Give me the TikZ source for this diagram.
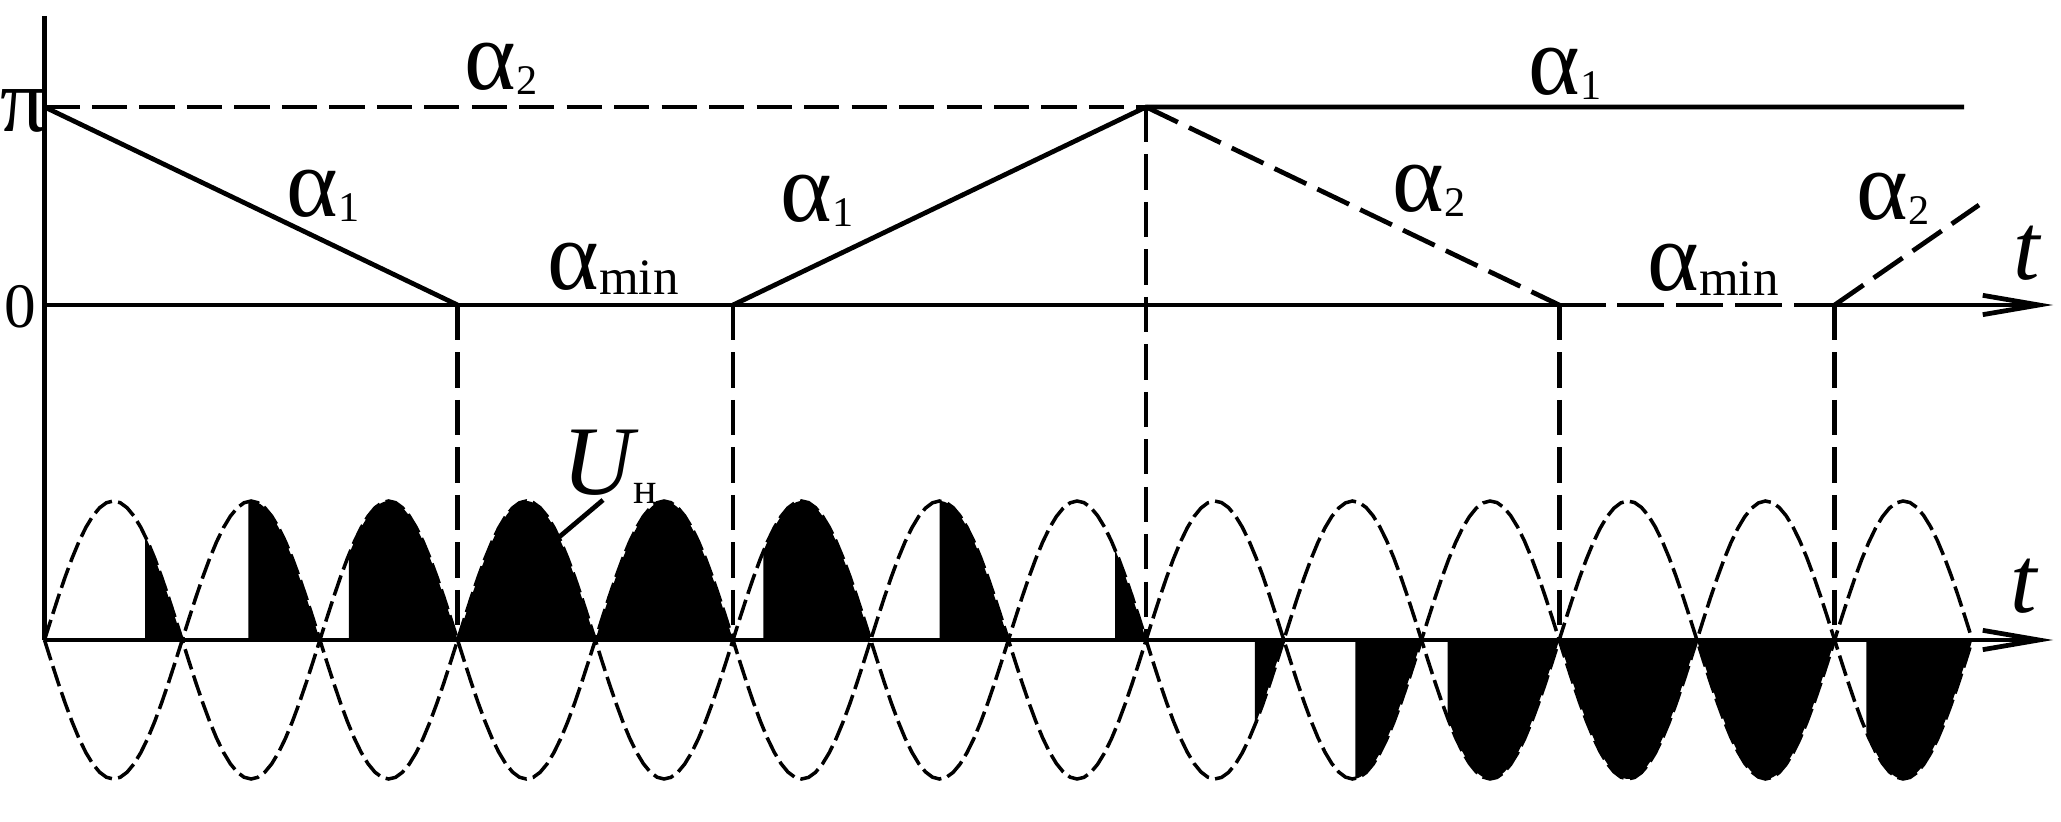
\documentclass[tikz,border=0pt]{standalone}
\usepackage{fontspec}
\setmainfont{Liberation Serif}
\usepackage{tikz}
\usetikzlibrary{arrows.meta}
\newcommand{\alf}[2][12]{α\raisebox{-1.4pt}{\fontsize{#1}{#1}\selectfont #2}}

\begin{document}
\begin{tikzpicture}[x=0.01cm, y=-0.01cm, % control angles and load voltage
    axis/.style={line width=1.35pt},
    ctrldash/.style={line width=1.35pt, dash pattern=on 10pt off 3.5pt},
    supply/.style={line width=1pt, dash pattern=on 6pt off 1.8pt},
    lbl/.style={inner sep=0pt, anchor=base west, font=\fontsize{28}{28}\selectfont},
    tip/.style={-{Straight Barb[length=16pt, width=5.5pt]}}]

      \useasboundingbox (0,0) rectangle (2061,822);

      % load voltage
      \foreach \k/\a/\s in {0/0.73/-1, 1/0.48/-1, 2/0.21/-1, 3/0/-1, 4/0/-1, 5/0.22/-1, 6/0.5/-1, 7/0.775/-1,
                            8/0.79/1, 9/0.52/1, 10/0.19/1, 11/0/1, 12/0/1, 13/0.23/1}
        {
          \pgfmathsetmacro{\ks}{\k+\a}
          \pgfmathsetmacro{\ke}{\k+1}
          \fill [domain=\ks:\ke, samples=40] ({44.5+137.7*\ks}, 640)
            -- plot ({44.5+137.7*\x}, {640+\s*139*abs(sin(180*\x))}) -- cycle;
        }
      \draw [supply, domain=0:14, samples=281] plot ({44.5+137.7*\x}, {640-139*sin(180*\x)});
      \draw [supply, domain=0:14, samples=281] plot ({44.5+137.7*\x}, {640+139*sin(180*\x)});

      % axes
      \coordinate (top) at (44.5, 16);
      \coordinate (o1) at (44.5, 305);
      \coordinate (o2) at (44.5, 640);
      \coordinate (t1end) at (2053, 305);
      \coordinate (t2end) at (2053, 640);
      \coordinate (gap1) at (1606, 305);
      \coordinate (gap2) at (1617, 305);
      \coordinate (gap3) at (1783, 305);
      \coordinate (gap4) at (1794, 305);
      \draw [axis] (top) -- (o2);
      \draw [axis, tip] (o2) -- (t2end);
      \draw [axis] (o1) -- (gap1);
      \draw [axis, dash pattern=on 13.4pt off 3.4pt] (gap2) -- (gap3);
      \draw [axis, tip] (gap4) -- (t1end);

      % control angles
      \coordinate (pi0) at (44.5, 107);
      \coordinate (a1) at (457.6, 305);
      \coordinate (b1) at (733, 305);
      \coordinate (c1) at (1146.1, 107);
      \coordinate (d1) at (1559.2, 305);
      \coordinate (e1) at (1834.6, 305);
      \coordinate (f1) at (1979, 205);
      \coordinate (piend) at (1964, 107);
      \draw [axis] (pi0) -- (a1);
      \draw [axis] (b1) -- (c1) -- (piend);
      \draw [ctrldash] (pi0) -- (c1);
      \draw [ctrldash] (c1) -- (d1);
      \draw [ctrldash] (e1) -- (f1);
      \foreach \p in {a1, b1, c1, d1, e1}
        \draw [ctrldash] (\p) -- (\p |- o2);

      \node [lbl, font=\fontsize{26}{26}\selectfont] (lblpi) at (0, 132) {π};
      \node [lbl, font=\fontsize{18}{18}\selectfont] (lblzero) at (4, 328) {0};
      \node [lbl] (alpha2a) at (464, 90) {\alf{2}};
      \node [lbl] (alpha1a) at (286, 217) {\alf{1}};
      \node [lbl] (alphamina) at (547, 290) {\alf[14.5]{min}};
      \node [lbl] (alpha1b) at (780, 222) {\alf{1}};
      \node [lbl] (alpha2b) at (1392, 212) {\alf{2}};
      \node [lbl] (alpha1c) at (1528, 95) {\alf{1}};
      \node [lbl] (alphaminb) at (1647, 291) {\alf[14.5]{min}};
      \node [lbl] (alpha2c) at (1856, 220) {\alf{2}};
      \node [lbl, font=\fontsize{27}{27}\selectfont\itshape] (lblt1) at (2013, 280) {t};
      \node [lbl, font=\fontsize{27}{27}\selectfont\itshape] (lblt2) at (2010, 613) {t};
      \node [lbl] (lblU) at (562, 495) {\textit{U}\kern-1.5pt\raisebox{-2.3pt}{\fontsize{12.5}{12.5}\selectfont н}};
      \coordinate (uhfoot) at (603, 500);
      \coordinate (uhtip) at (558, 538);
      \draw [axis] (uhfoot) -- (uhtip);

    \end{tikzpicture}
\end{document}
